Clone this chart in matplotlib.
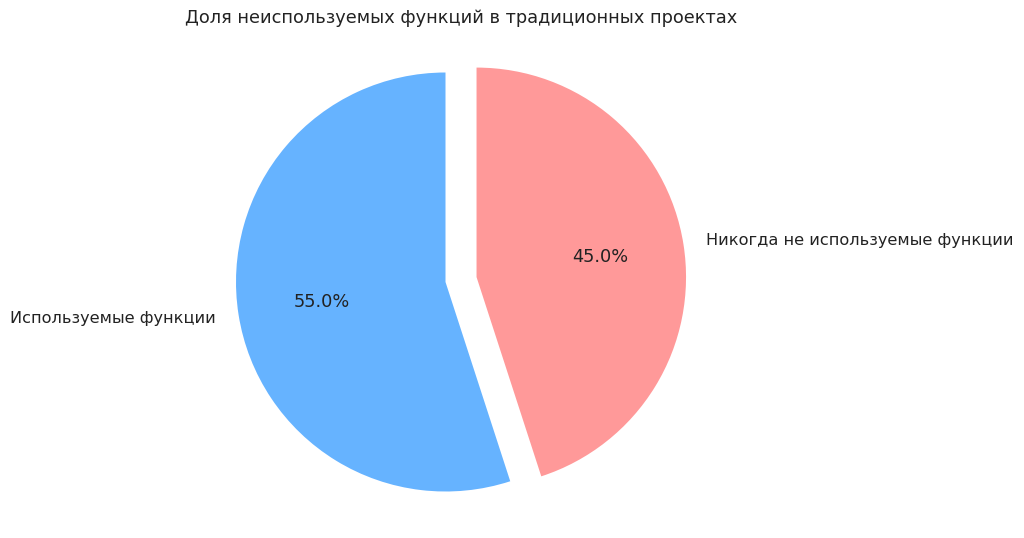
import matplotlib
matplotlib.use("Agg")
import matplotlib.pyplot as plt

labels = ["Используемые функции", "Никогда не используемые функции"]
values = [55, 45]
colors = ["#66b3ff", "#ff9999"]
explode = [0, 0.15]
title = "Доля неиспользуемых функций в традиционных проектах"

W, H = 1024, 538
fig = plt.figure(figsize=(W / 100, H / 100), dpi=100)
ax = fig.add_axes([0, 0, 1, 1])
wedges, texts, autotexts = ax.pie(values, labels=labels, colors=colors, explode=explode,
                                  autopct="%1.1f%%", startangle=90, labeldistance=1.11,
                                  textprops={"fontsize": 11.6, "color": "#222222"})
for t in autotexts:
    t.set_fontsize(12.8)
scale = 209.5
cx, cy = 445.5, H - 282
ax.set_xlim(-cx / scale, (W - cx) / scale)
ax.set_ylim(-cy / scale, (H - cy) / scale)
ax.set_aspect("equal")
ax.axis("off")
fig.text(461 / W, 1 - 18 / H, title, ha="center", va="center",
         fontsize=12.8, color="#222222")
fig.savefig("out.png", dpi=100)
